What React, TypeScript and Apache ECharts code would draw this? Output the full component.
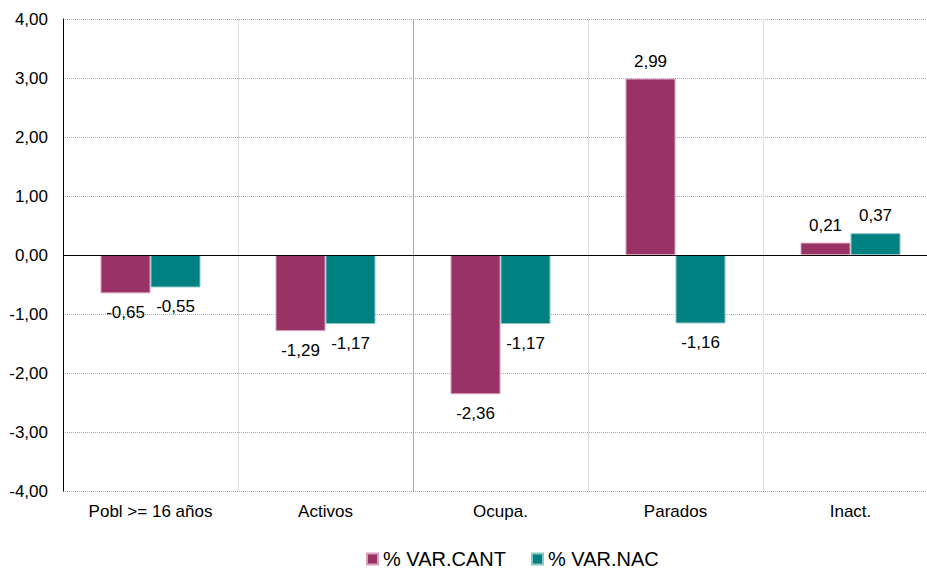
import React, { useEffect, useRef } from "react";
import * as echarts from "echarts";

const categories = ["Pobl >= 16 años", "Activos", "Ocupa.", "Parados", "Inact."];
const varCant = [-0.65, -1.29, -2.36, 2.99, 0.21];
const varNac = [-0.55, -1.17, -1.17, -1.16, 0.37];
const seriesNames = ["% VAR.CANT", "% VAR.NAC"];
const yTicks = { min: -4, max: 4, interval: 1 };

const fmt = (v: number) => v.toFixed(2).replace(".", ",");
const FONT = "'Liberation Sans', Arial, Helvetica, sans-serif";

function makeData(arr: number[]) {
  return arr.map((v) => ({
    value: v,
    label: v < 0 ? { position: "bottom", distance: 11 } : { position: "top", distance: 9 },
  }));
}

export default function App() {
  const ref = useRef<HTMLDivElement>(null);
  useEffect(() => {
    if (!ref.current) return;
    const chart = echarts.init(ref.current, null, { renderer: "svg" });
    const labelCfg = {
      show: true,
      color: "#000",
      fontSize: 17,
      fontFamily: FONT,
      formatter: (p: any) => fmt(p.value),
    };
    chart.setOption({
      animation: false,
      backgroundColor: "#fff",
      textStyle: { fontFamily: FONT },
      grid: { left: 63, top: 19, width: 875, height: 472, containLabel: false, outerBoundsMode: "none" },
      legend: {
        top: 549,
        left: 366,
        padding: 0,
        icon: "rect",
        itemWidth: 11,
        itemHeight: 11,
        itemGap: 25,
        textStyle: { fontSize: 20, color: "#000", fontFamily: FONT },
        data: seriesNames,
      },
      xAxis: {
        type: "category",
        data: categories,
        axisLine: { show: false, onZero: false },
        axisTick: { show: false },
        axisLabel: { color: "#000", fontSize: 17, fontFamily: FONT, margin: 12 },
        splitLine: {
          show: true,
          lineStyle: { color: ["#ddd", "#ddd", "#aaa", "#ddd", "#ddd", "#ddd"], width: 1 },
        },
      },
      yAxis: {
        type: "value",
        min: yTicks.min,
        max: yTicks.max,
        interval: yTicks.interval,
        axisLine: { show: true, lineStyle: { color: "#000", width: 1 } },
        axisTick: { show: false },
        axisLabel: {
          color: "#000",
          fontSize: 17,
          fontFamily: FONT,
          margin: 15,
          formatter: (v: number) => fmt(v),
        },
        splitLine: { show: true, lineStyle: { color: "#aaa", type: [1, 1], width: 1 } },
      },
      series: [
        {
          name: seriesNames[0],
          type: "bar",
          data: makeData(varCant),
          barWidth: 50,
          barGap: "0%",
          itemStyle: { color: "#993366", borderColor: "#d9a0bd", borderWidth: 1 },
          label: labelCfg,
          markLine: {
            silent: true,
            symbol: "none",
            label: { show: false },
            lineStyle: { color: "#000", type: "solid", width: 1 },
            data: [{ yAxis: 0 }],
          },
        },
        {
          name: seriesNames[1],
          type: "bar",
          data: makeData(varNac),
          barWidth: 50,
          barGap: "0%",
          itemStyle: { color: "#008080", borderColor: "#8cc7c7", borderWidth: 1 },
          label: labelCfg,
        },
      ],
    });
    return () => chart.dispose();
  }, []);
  return (
    <div style={{ position: "absolute", left: 0, top: 0, width: 927, height: 570, overflow: "hidden" }}>
      <div ref={ref} style={{ width: 960, height: 570 }} />
    </div>
  );
}
